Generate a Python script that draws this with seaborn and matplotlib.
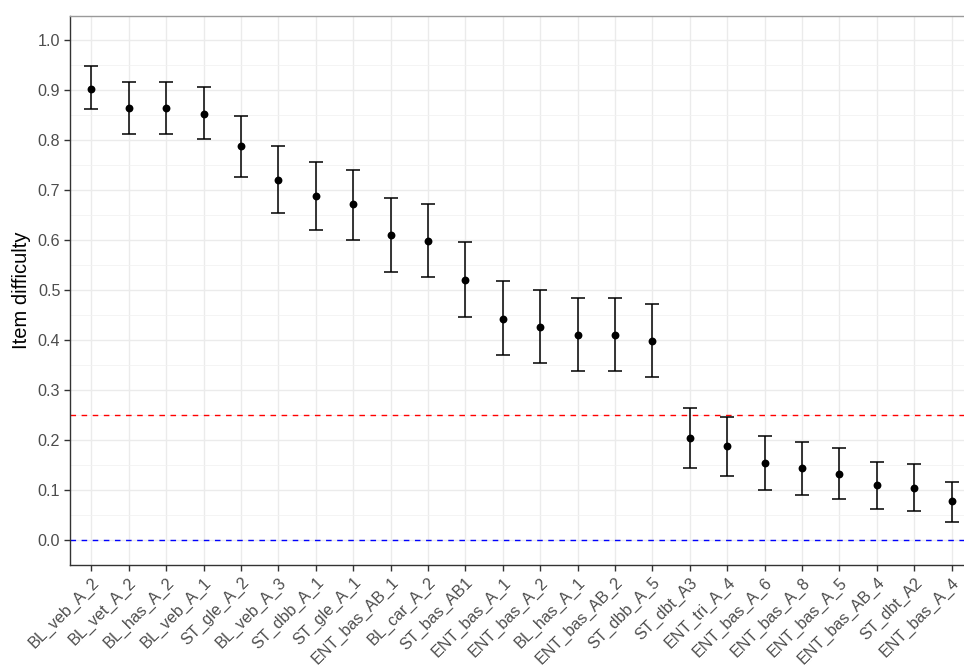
import matplotlib
matplotlib.use("Agg")
import matplotlib.pyplot as plt
import seaborn as sns
import numpy as np
import pandas as pd

items = ["BL_veb_A_2", "BL_vet_A_2", "BL_has_A_2", "BL_veb_A_1", "ST_gle_A_2", "BL_veb_A_3",
         "ST_dbb_A_1", "ST_gle_A_1", "ENT_bas_AB_1", "BL_car_A_2", "ST_bas_AB1", "ENT_bas_A_1",
         "ENT_bas_A_2", "BL_has_A_1", "ENT_bas_AB_2", "ST_dbb_A_5", "ST_dbt_A3", "ENT_tri_A_4",
         "ENT_bas_A_6", "ENT_bas_A_8", "ENT_bas_A_5", "ENT_bas_AB_4", "ST_dbt_A2", "ENT_bas_A_4"]
difficulty = [0.903, 0.865, 0.865, 0.853, 0.788, 0.721, 0.688, 0.672, 0.610, 0.599, 0.521, 0.443,
              0.427, 0.411, 0.411, 0.399, 0.205, 0.188, 0.155, 0.144, 0.133, 0.110, 0.104, 0.078]
upper = [0.948, 0.917, 0.917, 0.907, 0.849, 0.788, 0.757, 0.741, 0.684, 0.672, 0.596, 0.518,
         0.501, 0.485, 0.485, 0.473, 0.265, 0.247, 0.209, 0.197, 0.184, 0.157, 0.152, 0.117]
lower = [0.862, 0.813, 0.813, 0.803, 0.726, 0.655, 0.620, 0.601, 0.537, 0.526, 0.446, 0.371,
         0.354, 0.338, 0.338, 0.326, 0.145, 0.129, 0.101, 0.091, 0.083, 0.063, 0.059, 0.037]
ref_lines = [0.25, 0.0]
ref_colors = ["#FF0000", "#0000FF"]
yticks = [0.0, 0.1, 0.2, 0.3, 0.4, 0.5, 0.6, 0.7, 0.8, 0.9, 1.0]

df = pd.DataFrame({"item": items, "difficulty": difficulty, "lower": lower, "upper": upper})

sns.set_theme(style="white")
plt.rcParams['font.family'] = ['Liberation Sans', 'DejaVu Sans']

fig = plt.figure(figsize=(9.64, 6.68), dpi=100)
ax = fig.add_axes([70/964, 1 - 565/668, 1 - 70/964, (565 - 16)/668])

x = np.arange(len(items))
yerr = np.vstack([df["difficulty"] - df["lower"], df["upper"] - df["difficulty"]])
ax.errorbar(x, df["difficulty"], yerr=yerr, fmt="none", ecolor="black",
            elinewidth=1.1, capsize=5.3, capthick=1.1, zorder=3)
sns.scatterplot(x=x, y=df["difficulty"], color="black", s=32, edgecolor="black",
                linewidth=0, ax=ax, zorder=4)

for v, c in zip(ref_lines, ref_colors):
    ax.axhline(v, color=c, linestyle=(0, (4, 4)), linewidth=1.0, zorder=2)

ax.set_xlim(-0.57, 23.33)
ax.set_ylim(-0.05, 1.049)
ax.set_xticks(x)
ax.set_xticklabels(items, rotation=45, ha="right", rotation_mode="anchor",
                   fontsize=11.6, color="#4D4D4D")
ax.set_yticks(yticks)
ax.set_yticklabels([f"{t:.1f}" for t in yticks], fontsize=11.6, color="#4D4D4D")
ax.set_yticks([0.05, 0.15, 0.25, 0.35, 0.45, 0.55, 0.65, 0.75, 0.85, 0.95], minor=True)

ax.grid(True, which="major", color="#EBEBEB", linewidth=1.0, zorder=0)
ax.grid(True, which="minor", axis="y", color="#F2F2F2", linewidth=0.6, zorder=0)
ax.set_axisbelow(True)

ax.tick_params(axis="both", which="major", length=4, width=1, color="#333333",
               direction="out", bottom=True, left=True, pad=3)
ax.tick_params(axis="y", which="minor", length=0)

for side in ["left", "bottom"]:
    ax.spines[side].set_color("#333333")
    ax.spines[side].set_linewidth(1.0)
ax.spines["top"].set_color("#9A9A9A")
ax.spines["top"].set_linewidth(1.0)
ax.spines["right"].set_visible(False)

ax.set_xlabel("")
ax.set_ylabel("Item difficulty", fontsize=14.5, color="black", labelpad=5)

fig.savefig("out.png", dpi=100)
